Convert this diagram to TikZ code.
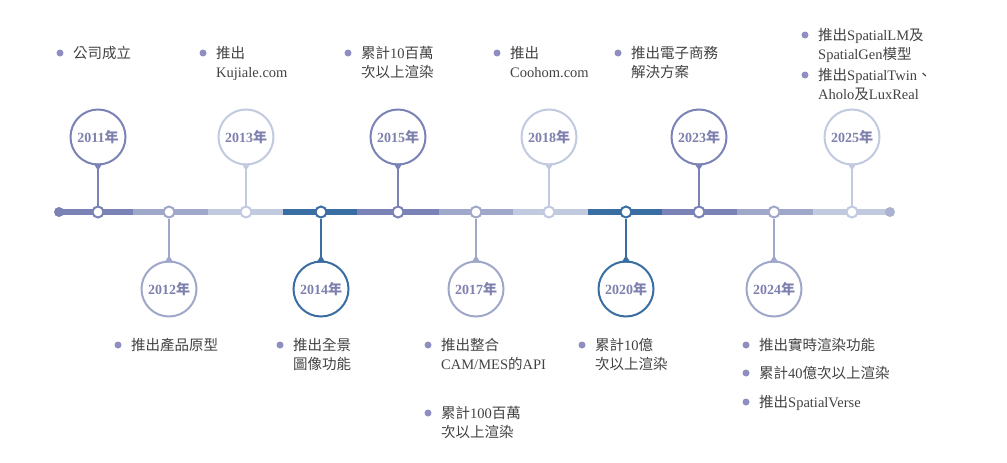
\documentclass[tikz,border=0pt]{standalone}
\usepackage{fontspec}
\setmainfont{Liberation Serif}
\newfontfamily\cjk{Noto Sans CJK TC}
\usetikzlibrary{calc}
\definecolor{cA}{HTML}{7B82B5}
\definecolor{cB}{HTML}{A0A8CA}
\definecolor{cC}{HTML}{C2CADF}
\definecolor{cD}{HTML}{3A6EA3}
\definecolor{ytext}{HTML}{7E80AE}
\definecolor{txt}{HTML}{424242}
\definecolor{bulc}{HTML}{8E8EC0}
\newcommand\tl[2]{\begin{tabular}[t]{@{}l@{}}#1\\#2\end{tabular}}
\newcommand\zh[1]{{\cjk #1}}
\newcommand\evt[4]{%
  \node[bul] (b#1) at (#2,#3) {};
  \node[evt] (e#1) at ({#2+13},{#3+5.5}) {#4};}
\newcommand\wdn[2]{\fill[#2] ($(#1.south)+(-4.5,-2)$) -- ($(#1.south)+(4.5,-2)$) -- ($(#1.south)+(0,5)$) -- cycle;}
\newcommand\wup[2]{\fill[#2] ($(#1.north)+(-4.5,2)$) -- ($(#1.north)+(4.5,2)$) -- ($(#1.north)+(0,-5)$) -- cycle;}
\begin{document}
\begin{tikzpicture}[x=1pt,y=-1pt,
  seg/.style={line width=6pt,draw=#1},
  yc/.style={circle,draw=#1,line width=2pt,fill=white,minimum size=55pt,inner sep=0,text=ytext,font=\fontsize{14}{16}\selectfont\bfseries},
  tdot/.style={circle,draw=#1,line width=2pt,fill=white,minimum size=11pt,inner sep=0},
  stemln/.style={draw=#1,line width=2.5pt},
  bul/.style={circle,fill=bulc,minimum size=7pt,inner sep=0},
  evt/.style={anchor=base west,inner sep=0,text=txt,font=\fontsize{14.5}{18.5}\selectfont},
]
\useasboundingbox (0,0) rectangle (1007,463);
% timeline segments
\foreach \a/\b/\c in {59/133/cA,133/208/cB,208/283/cC,283/357/cD,357/439/cA,439/513/cB,513/588/cC,588/662/cD,662/737/cA,737/813/cB,813/890/cC}
  \draw[seg=\c] (\a,212) -- (\b,212);
\node[circle,fill=cA,minimum size=10pt,inner sep=0] (start) at (59,212) {};
\node[circle,fill=cB!70!cC,minimum size=10pt,inner sep=0] (end) at (890,212) {};
% top years
\foreach \x/\yr/\c in {98/2011/cA,246/2013/cC,398/2015/cA,549/2018/cC,699/2023/cA,852/2025/cC}{
  \node[yc=\c] (y\yr) at (\x,137) {\yr\zh{年}};
  \node[tdot=\c] (t\yr) at (\x,212) {};
  \draw[stemln=\c] (y\yr.south) -- (t\yr.north);
  \wdn{y\yr}{\c}
}
% bottom years
\foreach \x/\yr/\c in {169/2012/cB,321/2014/cD,476/2017/cB,626/2020/cD,774/2024/cB}{
  \node[yc=\c] (y\yr) at (\x,289) {\yr\zh{年}};
  \node[tdot=\c] (t\yr) at (\x,212) {};
  \draw[stemln=\c] (y\yr.north) -- (t\yr.south);
  \wup{y\yr}{\c}
}
% top events
\evt{1}{60}{53}{\zh{公司成立}}
\evt{2}{203}{53}{\tl{\zh{推出}}{Kujiale.com}}
\evt{3}{348}{53}{\tl{\zh{累計}10\zh{百萬}}{\zh{次以上渲染}}}
\evt{4}{497}{53}{\tl{\zh{推出}}{Coohom.com}}
\evt{5}{618}{53}{\tl{\zh{推出電子商務}}{\zh{解決方案}}}
\evt{6}{805}{35}{\tl{\zh{推出}SpatialLM\zh{及}}{SpatialGen\zh{模型}}}
\evt{7}{805}{75}{\tl{\zh{推出}SpatialTwin\zh{、}}{Aholo\zh{及}LuxReal}}
% bottom events
\evt{8}{118}{345}{\zh{推出產品原型}}
\evt{9}{280}{345}{\tl{\zh{推出全景}}{\zh{圖像功能}}}
\evt{10}{428}{345}{\tl{\zh{推出整合}}{CAM/MES\zh{的}API}}
\evt{11}{428}{413}{\tl{\zh{累計}100\zh{百萬}}{\zh{次以上渲染}}}
\evt{12}{582}{345}{\tl{\zh{累計}10\zh{億}}{\zh{次以上渲染}}}
\evt{13}{746}{345}{\zh{推出實時渲染功能}}
\evt{14}{746}{373}{\zh{累計}40\zh{億次以上渲染}}
\evt{15}{746}{402}{\zh{推出}SpatialVerse}
\end{tikzpicture}
\end{document}
